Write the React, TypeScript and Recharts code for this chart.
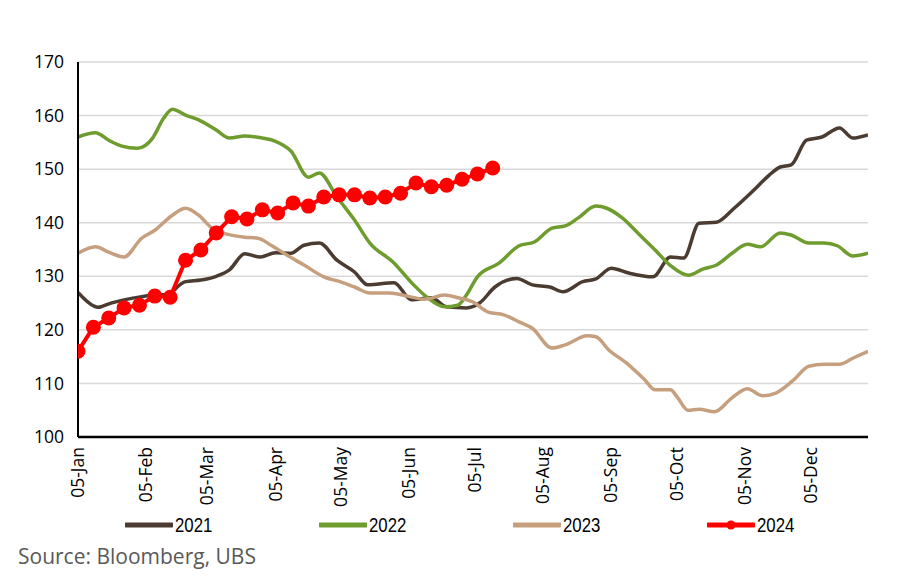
import React from "react";
import { LineChart, Line, XAxis, YAxis, CartesianGrid } from "recharts";

// Day offsets are counted from 05-Jan.
const tickDays = [0, 31, 59, 90, 120, 151, 181, 212, 243, 273, 304, 334];
const tickLabels = ["05-Jan", "05-Feb", "05-Mar", "05-Apr", "05-May", "05-Jun", "05-Jul", "05-Aug", "05-Sep", "05-Oct", "05-Nov", "05-Dec"];
const yTicks = [100, 110, 120, 130, 140, 150, 160, 170];

const days2021 = [0, 7, 9, 15, 21, 29, 35, 42, 44, 49, 56, 63, 69, 76, 83, 90, 97, 103, 110, 118, 126, 132, 144, 152, 161, 168, 177, 183, 190, 200, 207, 215, 221, 230, 236, 243, 251, 262, 270, 276, 283, 291, 299, 308, 315, 320, 325, 332, 339, 347, 353, 360];
const vals2021 = [127, 124.5, 124.2, 125, 125.6, 126.2, 126.5, 126.6, 127.5, 129, 129.3, 130, 131.2, 134.2, 133.6, 134.4, 134.3, 135.8, 136.2, 133, 130.8, 128.4, 128.8, 125.6, 126, 124.3, 124.1, 125, 128, 129.6, 128.4, 128, 127.1, 129, 129.5, 131.5, 130.6, 129.9, 133.6, 133.4, 139.9, 140.1, 142.7, 146.1, 148.9, 150.4, 150.8, 155.4, 156, 157.7, 155.8, 156.4];

const days2022 = [0, 8, 14, 20, 27, 34, 39, 43, 49, 55, 63, 69, 76, 84, 90, 97, 105, 110, 118, 126, 133, 144, 152, 159, 167, 173, 177, 182, 192, 201, 208, 216, 222, 228, 236, 241, 248, 256, 263, 270, 278, 285, 291, 298, 305, 311, 320, 325, 333, 340, 346, 353, 360];
const vals2022 = [156, 156.8, 155.4, 154.3, 153.9, 155.8, 159.5, 161.2, 160.1, 159.2, 157.3, 155.8, 156.2, 155.8, 155.2, 153.4, 148.5, 149.3, 144.8, 140.5, 136.2, 132.5, 128.8, 126.1, 124.3, 124.6, 126.5, 129.9, 132.5, 135.7, 136.4, 139, 139.4, 140.9, 143.1, 142.7, 140.9, 137.7, 134.9, 132, 130.2, 131.4, 132.1, 134.3, 136, 135.5, 138.1, 137.7, 136.2, 136.2, 135.7, 133.8, 134.3];

const days2023 = [0, 8, 14, 21, 29, 35, 43, 49, 55, 61, 66, 76, 82, 88, 95, 103, 112, 120, 126, 133, 142, 150, 158, 167, 173, 180, 187, 194, 201, 207, 216, 222, 232, 236, 242, 250, 258, 263, 270, 273, 278, 283, 290, 298, 305, 312, 318, 326, 333, 340, 347, 353, 360];
const vals2023 = [134.3, 135.5, 134.5, 133.6, 137.1, 138.6, 141.4, 142.7, 141.4, 139, 138.1, 137.3, 137.1, 135.8, 134, 132.1, 129.9, 128.9, 128, 126.9, 126.9, 126.3, 125.7, 126.5, 126, 125.2, 123.3, 122.8, 121.5, 120.3, 116.6, 117.2, 118.9, 118.7, 116.2, 113.8, 110.8, 108.8, 108.8, 107.5, 105, 105.2, 104.7, 107.3, 109, 107.7, 108.2, 110.6, 113.2, 113.6, 113.6, 114.7, 116];

const days2024 = [0, 7, 14, 21, 28, 35, 42, 49, 56, 63, 70, 77, 84, 91, 98, 105, 112, 119, 126, 133, 140, 147, 154, 161, 168, 175, 182, 189];
const vals2024 = [116, 120.5, 122.2, 124.1, 124.6, 126.3, 126.1, 133, 134.9, 138.1, 141.1, 140.7, 142.4, 141.8, 143.7, 143.1, 144.8, 145.2, 145.2, 144.6, 144.8, 145.5, 147.4, 146.7, 147, 148.1, 149.1, 150.2];

const seriesNames = ["2021", "2022", "2023", "2024"];
const seriesColors = ["#4B3B31", "#6E9C2E", "#C6A07E", "#FF0000"];

const zip = (days: number[], vals: number[]) => days.map((d, i) => ({ day: d, v: vals[i] }));

const data2021 = zip(days2021, vals2021);
const data2022 = zip(days2022, vals2022);
const data2023 = zip(days2023, vals2023);
const data2024 = zip(days2024, vals2024);

const FONT = "'Open Sans', 'Noto Sans', sans-serif";

const XTick = (props: any) => {
  const { x, y, payload } = props;
  const idx = tickDays.indexOf(payload.value);
  return (
    <g transform={`translate(${x},${y + 2})`}>
      <text
        x={0}
        y={0}
        dy={6}
        textAnchor="end"
        transform="rotate(-90)"
        fontSize={17.5}
        fontFamily={FONT}
        fill="#000"
      >
        {idx >= 0 ? tickLabels[idx] : ""}
      </text>
    </g>
  );
};

const LegendRow = () => (
  <div style={{ position: "absolute", left: 0, top: 0, width: 897, height: 579, pointerEvents: "none" }}>
    {seriesNames.map((name, i) => {
      const left = 125 + i * 194;
      return (
        <div key={name} style={{ position: "absolute", left, top: 513, height: 24, display: "flex", alignItems: "center" }}>
          <svg width={48} height={14} style={{ display: "block" }}>
            <line x1={1} y1={7} x2={47} y2={7} stroke={seriesColors[i]} strokeWidth={5} strokeLinecap="round" />
            {i === 3 ? <circle cx={24} cy={7} r={4.5} fill={seriesColors[i]} /> : null}
          </svg>
          <span
            style={{
              display: "inline-block",
              fontFamily: "'Liberation Sans', Arial, sans-serif",
              fontSize: 21,
              color: "#000",
              marginLeft: 2,
              lineHeight: "24px",
              transform: "scaleX(0.8)",
              transformOrigin: "left center",
            }}
          >
            {name}
          </span>
        </div>
      );
    })}
    <div
      style={{
        position: "absolute",
        left: 18,
        top: 542,
        fontFamily: FONT,
        fontSize: 21,
        color: "#595959",
        lineHeight: "28px",
        whiteSpace: "nowrap",
      }}
    >
      Source: Bloomberg, UBS
    </div>
  </div>
);

export default function App() {
  return (
    <div style={{ position: "absolute", left: 0, top: 0, width: 897, height: 579, background: "#fff" }}>
      <LineChart width={897} height={579} margin={{ top: 62, right: 29, left: 0, bottom: 0 }}>
        <CartesianGrid vertical={false} stroke="#D9D9D9" strokeWidth={1.5} />
        <XAxis
          type="number"
          dataKey="day"
          domain={[0, 360]}
          ticks={tickDays}
          allowDataOverflow
          interval={0}
          height={142}
          tickLine={false}
          axisLine={{ stroke: "#000", strokeWidth: 2.5 }}
          tick={<XTick />}
        />
        <YAxis
          type="number"
          domain={[100, 170]}
          ticks={yTicks}
          width={78}
          tickLine={false}
          tickMargin={8}
          axisLine={{ stroke: "#000", strokeWidth: 2 }}
          tick={{ fontSize: 17.5, fontFamily: FONT, fill: "#000" }}
          interval={0}
        />
        <Line data={data2021} dataKey="v" type="monotone" stroke={seriesColors[0]} strokeWidth={3.5} dot={false} isAnimationActive={false} />
        <Line data={data2022} dataKey="v" type="monotone" stroke={seriesColors[1]} strokeWidth={3.5} dot={false} isAnimationActive={false} />
        <Line data={data2023} dataKey="v" type="monotone" stroke={seriesColors[2]} strokeWidth={3.5} dot={false} isAnimationActive={false} />
        <Line
          data={data2024}
          dataKey="v"
          type="linear"
          stroke={seriesColors[3]}
          strokeWidth={4}
          dot={{ r: 7.5, fill: seriesColors[3], stroke: "none" }}
          isAnimationActive={false}
        />
      </LineChart>
      <LegendRow />
    </div>
  );
}
